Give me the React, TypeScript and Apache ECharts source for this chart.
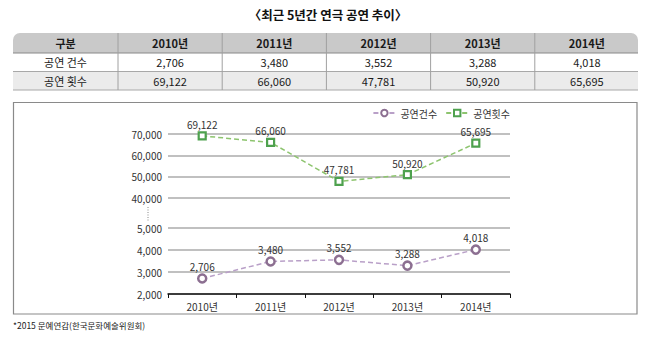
import React, { useEffect, useRef } from "react";
import * as echarts from "echarts";

const years = ["2010년", "2011년", "2012년", "2013년", "2014년"];
const countSeries = [2706, 3480, 3552, 3288, 4018]; // 공연 건수
const timesSeries = [69122, 66060, 47781, 50920, 65695]; // 공연 횟수
const upperTicks = { min: 40000, max: 70000, interval: 10000 };
const lowerTicks = { min: 2000, max: 5000, interval: 1000 };
const seriesNames = ["공연건수", "공연횟수"];
const rowLabels = ["공연 건수", "공연 횟수"];
const headerLabel = "구분";
const titleText = "〈최근 5년간 연극 공연 추이〉";
const footnote = "*2015 문예연감(한국문화예술위원회)";

const FONT = "'Noto Sans CJK KR', 'Noto Sans', sans-serif";
const fmt = (v: number) => Number(v).toLocaleString("en-US");

function buildTable(): any[] {
  const els: any[] = [];
  const x0 = 13;
  const firstW = 105;
  const colW = 104.2;
  const right = 638;
  const yH = 33, hH = 20, rH = 18.5;
  els.push({
    type: "rect",
    shape: { x: x0, y: yH, width: right - x0, height: hH, r: [7, 7, 0, 0] },
    style: { fill: "#c9c9c9" },
  });
  els.push({
    type: "rect",
    shape: { x: x0, y: yH + hH, width: right - x0, height: rH },
    style: { fill: "#ffffff" },
  });
  els.push({
    type: "rect",
    shape: { x: x0, y: yH + hH + rH, width: right - x0, height: rH },
    style: { fill: "#ebebeb" },
  });
  const hy = [yH + hH, yH + hH + rH, yH + hH + 2 * rH];
  hy.forEach((y, i) => {
    els.push({
      type: "line",
      shape: { x1: x0, y1: y, x2: right, y2: y },
      style: { stroke: i === 0 ? "#888" : "#a8a8a8", lineWidth: 1 },
    });
  });
  for (let c = 0; c < 5; c++) {
    const x = x0 + firstW + c * colW;
    els.push({
      type: "line",
      shape: { x1: x, y1: yH, x2: x, y2: yH + hH + 2 * rH },
      style: { stroke: "#a0a0a0", lineWidth: 1 },
    });
  }
  const colCenter = (c: number) =>
    c === 0 ? x0 + firstW / 2 : x0 + firstW + (c - 1) * colW + colW / 2;
  const rowCenter = (r: number) =>
    r === 0 ? yH + hH / 2 : yH + hH + (r - 1) * rH + rH / 2;
  const cell = (txt: string, c: number, r: number, bold: boolean) => ({
    type: "text",
    x: colCenter(c),
    y: rowCenter(r),
    style: {
      text: txt,
      fill: "#1a1a1a",
      font: `${bold ? "bold " : ""}11px ${FONT}`,
      align: "center",
      verticalAlign: "middle",
    },
  });
  els.push(cell(headerLabel, 0, 0, true));
  years.forEach((y, i) => els.push(cell(y, i + 1, 0, true)));
  els.push(cell(rowLabels[0], 0, 1, false));
  countSeries.forEach((v, i) => els.push(cell(fmt(v), i + 1, 1, false)));
  els.push(cell(rowLabels[1], 0, 2, false));
  timesSeries.forEach((v, i) => els.push(cell(fmt(v), i + 1, 2, false)));
  return els;
}

export default function App() {
  const ref = useRef<HTMLDivElement>(null);
  useEffect(() => {
    if (!ref.current) return;
    const chart = echarts.init(ref.current, null, { renderer: "svg" });
    const purple = "#8c6f91";
    const purpleLine = "#b9a0c8";
    const green = "#4ea14e";
    const greenLine = "#8dc46e";
    const gridLine = { show: true, lineStyle: { color: "#ababab", width: 1.5 } };
    const axisLabel = {
      fontSize: 10,
      color: "#333",
      fontFamily: FONT,
      margin: 6,
      formatter: (v: number) => fmt(v),
    };
    const dataLabel = {
      show: true,
      position: "top",
      distance: 2,
      fontSize: 10,
      color: "#333",
      fontFamily: FONT,
      formatter: (p: any) => fmt(p.value),
    };
    const option: any = {
      animation: false,
      backgroundColor: "#ffffff",
      textStyle: { fontFamily: FONT },
      legend: {
        right: 146,
        top: 105,
        itemWidth: 22,
        itemHeight: 8,
        itemGap: 8,
        padding: [2, 0, 2, 0],
        textStyle: { fontSize: 10, color: "#333", fontFamily: FONT, lineHeight: 12 },
        data: seriesNames,
      },
      grid: [
        { left: 168, width: 342, top: 134, height: 64 },
        { left: 168, width: 342, top: 228, height: 66 },
      ],
      xAxis: [
        {
          type: "category",
          gridIndex: 0,
          data: years,
          boundaryGap: true,
          show: false,
        },
        {
          type: "category",
          gridIndex: 1,
          data: years,
          boundaryGap: true,
          axisLine: { show: true, lineStyle: { color: "#111", width: 1.5 } },
          axisTick: { show: true, length: 4, lineStyle: { color: "#111" } },
          axisLabel: { fontSize: 10, color: "#333", fontFamily: FONT, margin: 7 },
        },
      ],
      yAxis: [
        {
          type: "value",
          gridIndex: 0,
          min: upperTicks.min,
          max: upperTicks.max,
          interval: upperTicks.interval,
          axisLine: { show: false },
          axisTick: { show: false },
          splitLine: gridLine,
          axisLabel,
        },
        {
          type: "value",
          gridIndex: 1,
          min: lowerTicks.min,
          max: lowerTicks.max,
          interval: lowerTicks.interval,
          axisLine: { show: false },
          axisTick: { show: false },
          splitLine: gridLine,
          axisLabel,
        },
      ],
      series: [
        {
          name: seriesNames[0],
          type: "line",
          xAxisIndex: 1,
          yAxisIndex: 1,
          data: countSeries,
          symbol: "circle",
          symbolSize: 8,
          itemStyle: { color: "#ffffff", borderColor: purple, borderWidth: 2.5 },
          lineStyle: { color: purpleLine, width: 1.5, type: [5, 3] },
          label: dataLabel,
          z: 3,
        },
        {
          name: seriesNames[1],
          type: "line",
          xAxisIndex: 0,
          yAxisIndex: 0,
          data: timesSeries,
          symbol: "rect",
          symbolSize: 7,
          itemStyle: { color: "#ffffff", borderColor: green, borderWidth: 2.2 },
          lineStyle: { color: greenLine, width: 1.5, type: [5, 3] },
          label: dataLabel,
          z: 3,
        },
      ],
      graphic: [
        {
          type: "text",
          x: 328,
          y: 14,
          style: {
            text: titleText,
            font: `bold 12.5px ${FONT}`,
            fill: "#111",
            align: "center",
            verticalAlign: "middle",
          },
        },
        ...buildTable(),
        {
          type: "rect",
          shape: { x: 13.5, y: 102.5, width: 623.5, height: 211.5 },
          style: { fill: "none", stroke: "#8a8a8a", lineWidth: 1.2 },
          z: -1,
        },
        {
          type: "line",
          shape: { x1: 148, y1: 207, x2: 148, y2: 222 },
          style: { stroke: "#888", lineWidth: 1, lineDash: [1, 1.5] },
        },
        {
          type: "text",
          x: 13,
          y: 325,
          style: {
            text: footnote,
            font: `8.5px ${FONT}`,
            fill: "#222",
            verticalAlign: "middle",
          },
        },
      ],
    };
    chart.setOption(option);
    return () => chart.dispose();
  }, []);
  return (
    <div
      ref={ref}
      style={{ position: "absolute", left: 0, top: 0, width: 656, height: 353 }}
    />
  );
}
